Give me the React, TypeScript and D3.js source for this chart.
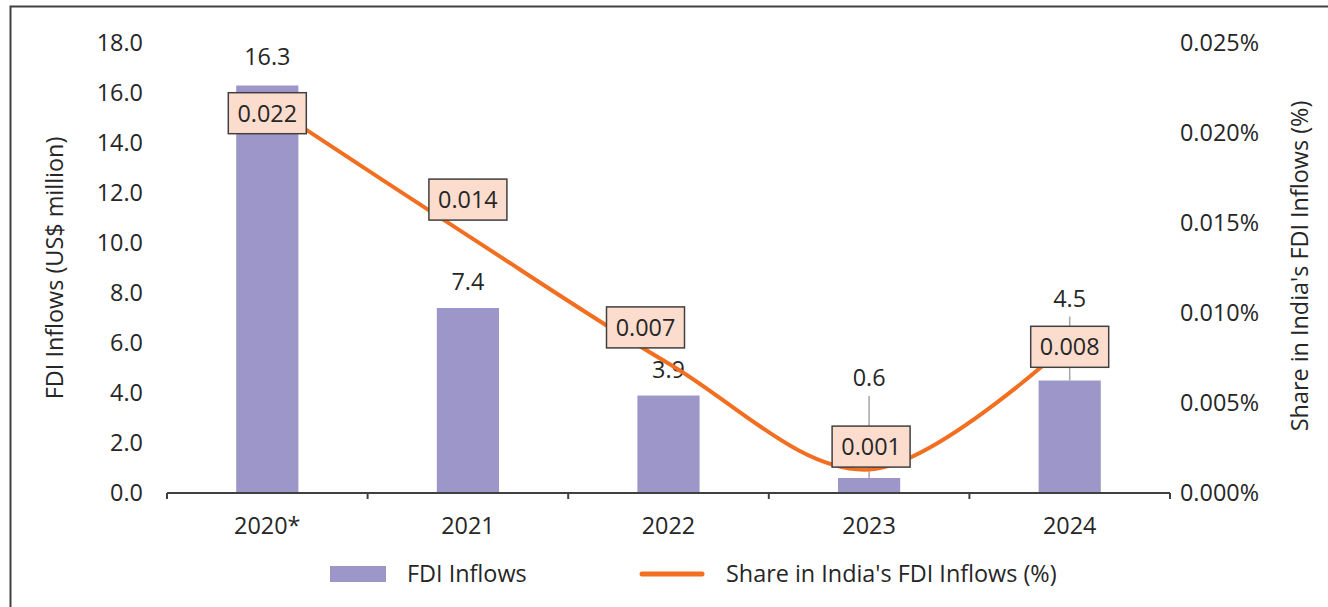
import * as d3 from "d3";

// chart data
const years = ["2020*", "2021", "2022", "2023", "2024"];
const fdiInflows = [16.3, 7.4, 3.9, 0.6, 4.5];
const sharePct = [0.0216, 0.0143, 0.0072, 0.0013, 0.0084];
const leftTicks = [0, 2, 4, 6, 8, 10, 12, 14, 16, 18];
const rightTicks = [0, 0.005, 0.01, 0.015, 0.02, 0.025];

// label nudges (pixels), like the manual moves in the original
const shareLabelShift = [[0, 9], [0, -36], [-23, -36], [2, -23], [0, 5]];
const barLabelLift = [3, 0, 0, 74, 56];

const W = 1328;
const H = 607;
const FONT = "'Open Sans', sans-serif";
const FS = 23.4;
const TXT = "#262626";

export default function App() {
  const x = d3.scaleBand<string>().domain(years).range([167, 1170]).paddingInner(0.69).paddingOuter(0.345);
  const band = d3.scaleBand<string>().domain(years).range([167, 1170]);
  const yL = d3.scaleLinear().domain([0, 18]).range([493, 43]);
  const yR = d3.scaleLinear().domain([0, 0.025]).range([493, 43]);

  const cx = (i: number) => (band(years[i]) as number) + band.bandwidth() / 2;

  const pts: [number, number][] = sharePct.map((v, i) => [cx(i), yR(v)]);
  const linePath = d3.line().curve(d3.curveCardinal.tension(0))(pts) || "";

  const boxW = 78;
  const boxH = 41;

  return (
    <svg width={W} height={H} style={{ position: "absolute", left: 0, top: 0, background: "#fff" }} fontFamily={FONT}>
      {/* frame */}
      <rect x={10.5} y={6.5} width={1400} height={700} fill="none" stroke="#404040" strokeWidth={2} />

      {/* left ticks */}
      {leftTicks.map((t) => (
        <text key={"l" + t} x={143} y={yL(t)} dy="0.36em" textAnchor="end" fontSize={FS} fill={TXT}>
          {t.toFixed(1)}
        </text>
      ))}
      {/* right ticks */}
      {rightTicks.map((t) => (
        <text key={"r" + t} x={1180} y={yR(t)} dy="0.36em" textAnchor="start" fontSize={FS} fill={TXT}>
          {t.toFixed(3) + "%"}
        </text>
      ))}

      {/* axis titles */}
      <text transform={`translate(55,268) rotate(-90)`} textAnchor="middle" dy="0.36em" fontSize={FS} fill={TXT}>
        FDI Inflows (US$ million)
      </text>
      <text transform={`translate(1300,266) rotate(-90)`} textAnchor="middle" dy="0.36em" fontSize={FS} fill={TXT}>
        Share in India's FDI Inflows (%)
      </text>

      {/* bars */}
      {fdiInflows.map((v, i) => (
        <rect key={"b" + i} x={x(years[i])} y={yL(v)} width={x.bandwidth()} height={yL(0) - yL(v)} fill="#9d97c9" />
      ))}

      {/* leader lines for moved bar labels */}
      {fdiInflows.map((v, i) =>
        barLabelLift[i] > 20 ? (
          <line key={"ld" + i} x1={cx(i)} x2={cx(i)} y1={yL(v) - 26 - barLabelLift[i] + 18} y2={yL(v)} stroke="#a6a6a6" strokeWidth={1.5} />
        ) : null
      )}

      {/* x axis */}
      <line x1={167} x2={1170} y1={493} y2={493} stroke="#404040" strokeWidth={2} />
      {d3.range(years.length + 1).map((i) => {
        const tx = 167 + band.step() * i;
        return <line key={"xt" + i} x1={tx} x2={tx} y1={493} y2={499} stroke="#404040" strokeWidth={2} />;
      })}
      {years.map((yr, i) => (
        <text key={"xl" + i} x={cx(i)} y={526} dy="0.36em" textAnchor="middle" fontSize={FS} fill={TXT}>
          {yr}
        </text>
      ))}

      {/* bar value labels */}
      {fdiInflows.map((v, i) => (
        <text key={"bl" + i} x={cx(i)} y={yL(v) - 26 - barLabelLift[i]} dy="0.36em" textAnchor="middle" fontSize={FS} fill={TXT}>
          {v.toFixed(1)}
        </text>
      ))}

      {/* share line */}
      <path d={linePath} fill="none" stroke="#f26f21" strokeWidth={4} strokeLinejoin="round" />

      {/* share labels */}
      {sharePct.map((v, i) => {
        const bx = cx(i) + shareLabelShift[i][0];
        const by = yR(v) + shareLabelShift[i][1];
        return (
          <g key={"sl" + i}>
            <rect x={bx - boxW / 2} y={by - boxH / 2} width={boxW} height={boxH} fill="#fcdccd" stroke="#404040" strokeWidth={1.5} />
            <text x={bx} y={by} dy="0.36em" textAnchor="middle" fontSize={FS} fill={TXT}>
              {v.toFixed(3)}
            </text>
          </g>
        );
      })}

      {/* legend */}
      <rect x={330} y={566} width={56} height={16} fill="#9d97c9" />
      <text x={407} y={574} dy="0.36em" fontSize={FS} fill={TXT}>
        FDI Inflows
      </text>
      <line x1={642} x2={702} y1={574} y2={574} stroke="#f26f21" strokeWidth={5} strokeLinecap="round" />
      <text x={726} y={574} dy="0.36em" fontSize={FS} fill={TXT}>
        Share in India's FDI Inflows (%)
      </text>
    </svg>
  );
}
